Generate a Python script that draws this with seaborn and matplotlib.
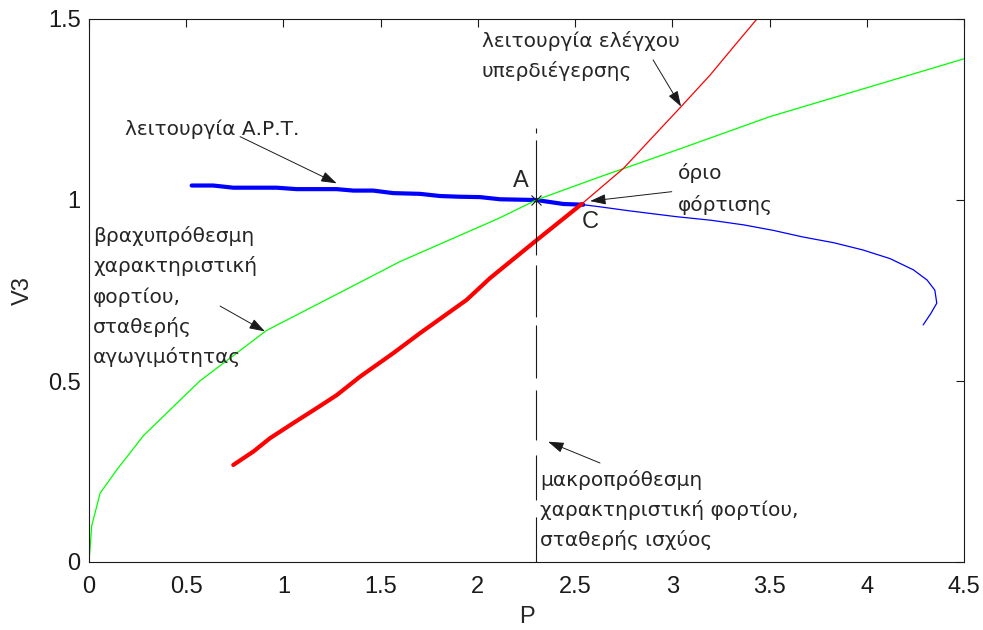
import matplotlib
matplotlib.use("Agg")
import matplotlib.pyplot as plt
import pandas as pd
import seaborn as sns

# Voltage regulator operation (thick part up to the loading limit C)
apt_p = [0.528, 0.639, 0.742, 0.965, 1.068, 1.274, 1.359, 1.462, 1.565, 1.702,
         1.805, 1.908, 2.011, 2.114, 2.30, 2.439, 2.542]
apt_v = [1.040, 1.040, 1.034, 1.034, 1.030, 1.030, 1.026, 1.026, 1.019, 1.017,
         1.011, 1.009, 1.008, 1.002, 1.000, 0.989, 0.987]

# Continuation of the same characteristic beyond C
apt_tail_p = [2.542, 2.63, 2.78, 3.02, 3.2, 3.37, 3.52, 3.67, 3.83, 3.98, 4.12,
              4.24, 4.31, 4.35, 4.36, 4.33, 4.29]
apt_tail_v = [0.987, 0.981, 0.970, 0.954, 0.944, 0.931, 0.916, 0.898, 0.882, 0.862, 0.838,
              0.807, 0.779, 0.751, 0.715, 0.687, 0.655]

# Over-excitation limiter operation (thick up to C, thin afterwards)
oel_p = [0.742, 0.845, 0.931, 1.034, 1.171, 1.274, 1.394, 1.565, 1.702, 1.942,
         2.062, 2.302, 2.534]
oel_v = [0.268, 0.305, 0.342, 0.378, 0.425, 0.461, 0.512, 0.577, 0.632, 0.724,
         0.784, 0.889, 0.989]
oel_tail_p = [2.534, 2.75, 2.885, 3.04, 3.194, 3.31, 3.435]
oel_tail_v = [0.989, 1.088, 1.166, 1.255, 1.345, 1.420, 1.500]

# Short-term load characteristic (constant conductance)
load_p = [0.0, 0.014, 0.057, 0.142, 0.28, 0.468, 0.57, 0.914, 1.24, 1.6, 2.11,
          2.30, 2.628, 3.022, 3.5, 4.0, 4.5]
load_v = [0.0, 0.10, 0.19, 0.254, 0.349, 0.447, 0.50, 0.64, 0.73, 0.83, 0.95,
          1.00, 1.064, 1.138, 1.23, 1.31, 1.39]

# Long-term load characteristic (constant power) and operating point A
p_const = 2.3
p_const_v = [1.199, 0.0]
point_a = (2.3, 1.0)

x_ticks = [0, 0.5, 1, 1.5, 2, 2.5, 3, 3.5, 4, 4.5]
x_tick_labels = ["0", "0.5", "1", "1.5", "2", "2.5", "3", "3.5", "4", "4.5"]
y_ticks = [0, 0.5, 1, 1.5]
y_tick_labels = ["0", "0.5", "1", "1.5"]

sns.set_theme(style="white")
plt.rcParams["font.family"] = ["Liberation Sans", "DejaVu Sans"]
plt.rcParams["lines.scale_dashes"] = False

fig = plt.figure(figsize=(9.83, 6.30), dpi=100)
ax = fig.add_axes([89 / 983, 68 / 630, 875 / 983, 543 / 630])

blue, red, green = "#0000ff", "#ff0000", "#00ff00"

def draw(p, v, color, lw):
    df = pd.DataFrame({"P": p, "V3": v})
    sns.lineplot(data=df, x="P", y="V3", sort=False, estimator=None,
                 color=color, linewidth=lw, ax=ax)

draw(apt_tail_p, apt_tail_v, blue, 0.9)
draw(apt_p, apt_v, blue, 3.0)
draw(load_p, load_v, green, 0.9)
draw(oel_tail_p, oel_tail_v, red, 0.9)
draw(oel_p, oel_v, red, 3.0)

# dashed constant-power line
ax.plot([p_const, p_const], p_const_v, color="k", linewidth=0.8,
        linestyle=(0, (3.6, 5.0, 82.8, 7.2, 37.4, 5.8, 38.2, 8.6, 36.0, 10.8, 32.4, 12.2, 32.4, 20)),
        zorder=4)
ax.plot([point_a[0]], [point_a[1]], marker="x", color="k", markersize=7,
        markeredgewidth=0.8, zorder=5)

ax.set_xlim(0, 4.5)
ax.set_ylim(0, 1.5)
ax.set_xticks(x_ticks)
ax.set_xticklabels(x_tick_labels)
ax.set_yticks(y_ticks)
ax.set_yticklabels(y_tick_labels)
ax.tick_params(direction="in", length=5.5, width=0.8, top=True, right=True,
               labelsize=17, colors="k")
ax.tick_params(axis="x", pad=10)
ax.tick_params(axis="y", pad=6)
for s in ax.spines.values():
    s.set_visible(True)
    s.set_color("k")
    s.set_linewidth(0.8)
ax.set_xlabel("P", fontsize=17, labelpad=6)
ax.set_ylabel("V3", fontsize=17, labelpad=10)

note = dict(fontsize=14.5, family=["DejaVu Sans"], va="baseline")
arrow = dict(arrowstyle="-|>,head_length=0.6,head_width=0.2", mutation_scale=16,
             color="k", lw=0.7, shrinkA=0, shrinkB=0)

ax.text(0.185, 1.180, "λειτουργία Α.Ρ.Τ.", **note)
ax.annotate("", xy=(1.274, 1.046), xytext=(0.777, 1.175), arrowprops=arrow)

ax.text(2.020, 1.4235, "λειτουργία ελέγχου", **note)
ax.text(2.020, 1.3406, "υπερδιέγερσης", **note)
ax.annotate("", xy=(3.045, 1.258), xytext=(2.901, 1.387), arrowprops=arrow)

ax.text(2.179, 1.035, "A", fontsize=17, va="baseline")
ax.text(2.534, 0.922, "C", fontsize=17, va="baseline")

ax.text(3.029, 1.058, "όριο", **note)
ax.text(3.029, 0.970, "φόρτισης", **note)
ax.annotate("", xy=(2.577, 0.997), xytext=(2.997, 1.023), arrowprops=arrow)

left_lines = ["βραχυπρόθεσμη", "χαρακτηριστική", "φορτίου,", "σταθερής", "αγωγιμότητας"]
for i, line in enumerate(left_lines):
    ax.text(0.022, 0.884 - i * 0.0836, line, **note)
ax.annotate("", xy=(0.905, 0.637), xytext=(0.674, 0.707), arrowprops=arrow)

bottom_lines = ["μακροπρόθεσμη", "χαρακτηριστική φορτίου,", "σταθερής ισχύος"]
for i, line in enumerate(bottom_lines):
    ax.text(2.319, 0.2113 - i * 0.0842, line, **note)
ax.annotate("", xy=(2.361, 0.3323), xytext=(2.628, 0.2735), arrowprops=arrow)

fig.savefig("out.png", dpi=100)
